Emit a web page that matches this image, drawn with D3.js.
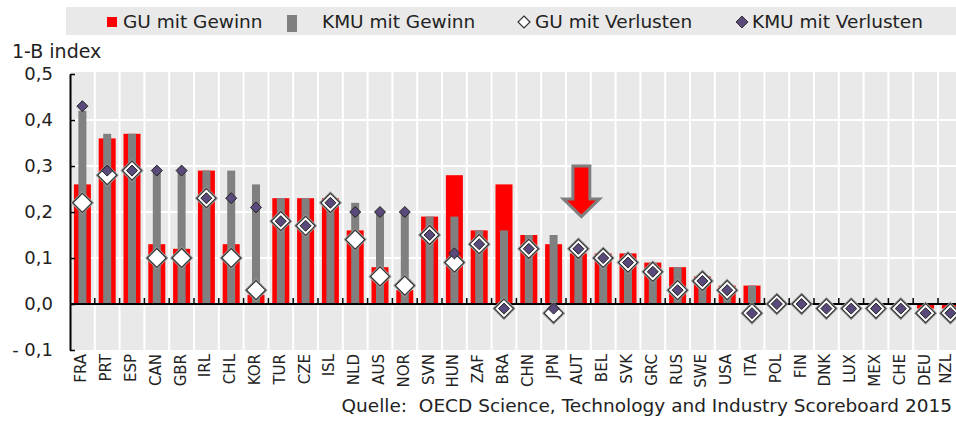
<!DOCTYPE html>
<html lang="de">
<head>
<meta charset="UTF-8">
<title>1-B index</title>
<script src="https://d3js.org/d3.v7.min.js"></script>
<style>
  body { margin: 0; background: #fff; font-family: "DejaVu Sans", Verdana, sans-serif; }
  svg text { fill: #222; }
</style>
</head>
<body>
<div id="chart"></div>
<script>
// data
const countries = ["FRA","PRT","ESP","CAN","GBR","IRL","CHL","KOR","TUR","CZE","ISL","NLD","AUS","NOR",
  "SVN","HUN","ZAF","BRA","CHN","JPN","AUT","BEL","SVK","GRC","RUS","SWE","USA","ITA","POL","FIN",
  "DNK","LUX","MEX","CHE","DEU","NZL"];
const guGewinn = [0.26,0.36,0.37,0.13,0.12,0.29,0.13,0.02,0.23,0.23,0.23,0.16,0.08,0.03,0.19,0.28,0.16,0.26,
  0.15,0.13,0.11,0.11,0.11,0.09,0.08,0.06,0.04,0.04,0.00,-0.005,0,0,0,0,-0.01,-0.01];
const kmuGewinn = [0.42,0.37,0.37,0.29,0.29,0.29,0.29,0.26,0.23,0.23,0.23,0.22,0.20,0.20,0.19,0.19,0.16,0.16,
  0.15,0.15,0.11,0.10,0.11,0.09,0.08,0.05,0.04,0.04,0,0,0,0,0,0,0,0];
const guVerlust = [0.22,0.28,0.29,0.10,0.10,0.23,0.10,0.03,0.18,0.17,0.22,0.14,0.06,0.04,0.15,0.09,0.13,-0.01,
  0.12,-0.02,0.12,0.10,0.09,0.07,0.03,0.05,0.03,-0.02,0.00,0.00,-0.01,-0.01,-0.01,-0.01,-0.02,-0.02];
const kmuVerlust = [0.43,0.29,0.29,0.29,0.29,0.23,0.23,0.21,0.18,0.17,0.22,0.20,0.20,0.20,0.15,0.11,0.13,-0.01,
  0.12,-0.01,0.12,0.10,0.09,0.07,0.03,0.05,0.03,-0.02,0.00,0.00,-0.01,-0.01,-0.01,-0.01,-0.02,-0.02];
const yTicks = [-0.1, 0, 0.1, 0.2, 0.3, 0.4, 0.5];
const legendLabels = ["GU mit Gewinn", "KMU mit Gewinn", "GU mit Verlusten", "KMU mit Verlusten"];
const highlight = {country: "AUT", from: 0.30, neck: 0.228, to: 0.19};

const width = 956, height = 421;
const red = "#ff0000", grey = "#808080", purple = "#5a4a7c", bg = "#e9e9e9";

const svg = d3.select("#chart").append("svg")
  .attr("width", width).attr("height", height);

const x = d3.scaleBand().domain(countries).range([70, 962.8]).padding(0);
const y = d3.scaleLinear().domain([-0.1, 0.5]).range([350, 74]);
const bw = x.bandwidth();

// legend
svg.append("rect").attr("x", 66).attr("y", 7).attr("width", 890).attr("height", 28).attr("fill", bg);
const lg = svg.append("g").style("font-size", "18.5px");
lg.append("rect").attr("x", 107).attr("y", 17).attr("width", 10).attr("height", 10).attr("fill", red);
lg.append("text").attr("x", 123).attr("y", 28).text(legendLabels[0]);
lg.append("rect").attr("x", 287).attr("y", 15).attr("width", 10).attr("height", 17).attr("fill", grey);
lg.append("text").attr("x", 322).attr("y", 28).text(legendLabels[1]);
lg.append("path").attr("d", "M524,16L530,22L524,28L518,22Z").attr("fill", "#fff").attr("stroke", "#333").attr("stroke-width", 1.2);
lg.append("text").attr("x", 535).attr("y", 28).text(legendLabels[2]);
lg.append("path").attr("d", "M742,16L748,22L742,28L736,22Z").attr("fill", purple).attr("stroke", "#333").attr("stroke-width", 1);
lg.append("text").attr("x", 752).attr("y", 28).text(legendLabels[3]);

svg.append("text").attr("x", 12).attr("y", 58).style("font-size", "19px").text("1-B index");

// plot background and grid
svg.append("rect")
  .attr("x", 71).attr("y", y(0.5) - 2)
  .attr("width", width - 71).attr("height", y(-0.1) - y(0.5) + 2)
  .attr("fill", bg);

svg.append("g").selectAll("line")
  .data(countries.slice(1))
  .join("line")
  .attr("x1", d => x(d)).attr("x2", d => x(d))
  .attr("y1", y(0.5) - 2).attr("y2", y(-0.1))
  .attr("stroke", "#fff").attr("stroke-width", 2);

svg.append("g").selectAll("line")
  .data(yTicks.filter(v => v > 0 && v < 0.5))
  .join("line")
  .attr("x1", 71).attr("x2", width)
  .attr("y1", d => y(d)).attr("y2", d => y(d))
  .attr("stroke", "#fff").attr("stroke-width", 2);

// bars
const rows = countries.map((c, i) => ({c, gu: guGewinn[i], kmu: kmuGewinn[i], guV: guVerlust[i], kmuV: kmuVerlust[i]}));

svg.append("g").selectAll("rect")
  .data(rows)
  .join("rect")
  .attr("x", d => x(d.c) + bw / 2 - 8.5)
  .attr("width", 17)
  .attr("y", d => y(Math.max(0, d.gu)))
  .attr("height", d => Math.abs(y(d.gu) - y(0)))
  .attr("fill", red);

svg.append("g").selectAll("rect")
  .data(rows)
  .join("rect")
  .attr("x", d => x(d.c) + bw / 2 - 4)
  .attr("width", 8)
  .attr("y", d => y(Math.max(0, d.kmu)))
  .attr("height", d => Math.abs(y(d.kmu) - y(0)))
  .attr("fill", grey);

// zero line with ticks at category borders
svg.append("line")
  .attr("x1", 70).attr("x2", width)
  .attr("y1", y(0)).attr("y2", y(0))
  .attr("stroke", "#000").attr("stroke-width", 2);
svg.append("g").selectAll("line")
  .data(countries.slice(1))
  .join("line")
  .attr("x1", d => x(d)).attr("x2", d => x(d))
  .attr("y1", y(0)).attr("y2", y(0) - 6)
  .attr("stroke", "#000").attr("stroke-width", 1.5);

// y axis
const fmt = v => (v < 0 ? "- " : "") + d3.format(".1f")(Math.abs(v)).replace(".", ",");
const yAxis = svg.append("g")
  .attr("transform", "translate(70,0)")
  .call(d3.axisLeft(y).tickValues(yTicks).tickFormat(fmt).tickSizeInner(-5).tickSizeOuter(0).tickPadding(17));
yAxis.select(".domain").attr("stroke", "#000").attr("stroke-width", 2);
yAxis.selectAll(".tick line").attr("stroke", "#000").attr("stroke-width", 1.5);
yAxis.selectAll("text").style("font-size", "18px").style("font-family", "DejaVu Sans").attr("fill", "#222");

// x labels (last one kept inside the frame)
svg.append("g").selectAll("text")
  .data(countries)
  .join("text")
  .attr("transform", d => `translate(${Math.min(x(d) + bw / 2 + 4, width - 5)},${y(-0.1) + 4}) rotate(-90)`)
  .attr("text-anchor", "end")
  .style("font-size", "15px")
  .text(d => d);

// diamonds
const diamond = r => `M0,${-r}L${r},0L0,${r}L${-r},0Z`;
const gW = svg.append("g");
gW.selectAll("path.halo")
  .data(rows)
  .join("path")
  .attr("class", "halo")
  .attr("transform", d => `translate(${x(d.c) + bw / 2},${y(d.guV)})`)
  .attr("d", diamond(9.5))
  .attr("fill", "#fff").attr("stroke", "#9a9a9a").attr("stroke-width", 3);
gW.selectAll("path.wd")
  .data(rows)
  .join("path")
  .attr("class", "wd")
  .attr("transform", d => `translate(${x(d.c) + bw / 2},${y(d.guV)})`)
  .attr("d", diamond(9.5))
  .attr("fill", "#fff").attr("stroke", "#333").attr("stroke-width", 1.2);

svg.append("g").selectAll("path")
  .data(rows)
  .join("path")
  .attr("transform", d => `translate(${x(d.c) + bw / 2},${y(d.kmuV)})`)
  .attr("d", diamond(5.5))
  .attr("fill", purple).attr("stroke", "#222").attr("stroke-width", 1);

// arrow pointing at AUT
const ax = x(highlight.country) + bw / 2 + 3;
const arrow = d3.path();
arrow.moveTo(ax - 8.5, y(highlight.from));
arrow.lineTo(ax + 8.5, y(highlight.from));
arrow.lineTo(ax + 8.5, y(highlight.neck));
arrow.lineTo(ax + 18, y(highlight.neck));
arrow.lineTo(ax, y(highlight.to));
arrow.lineTo(ax - 18, y(highlight.neck));
arrow.lineTo(ax - 8.5, y(highlight.neck));
arrow.closePath();
svg.append("path").attr("d", arrow.toString())
  .attr("fill", red).attr("stroke", "#7f7f7f").attr("stroke-width", 3).attr("stroke-linejoin", "miter");

svg.append("text")
  .attr("x", 952).attr("y", 412)
  .attr("text-anchor", "end")
  .style("font-size", "18.5px")
  .style("white-space", "pre")
  .text("Quelle:  OECD Science, Technology and Industry Scoreboard 2015");
</script>
</body>
</html>
